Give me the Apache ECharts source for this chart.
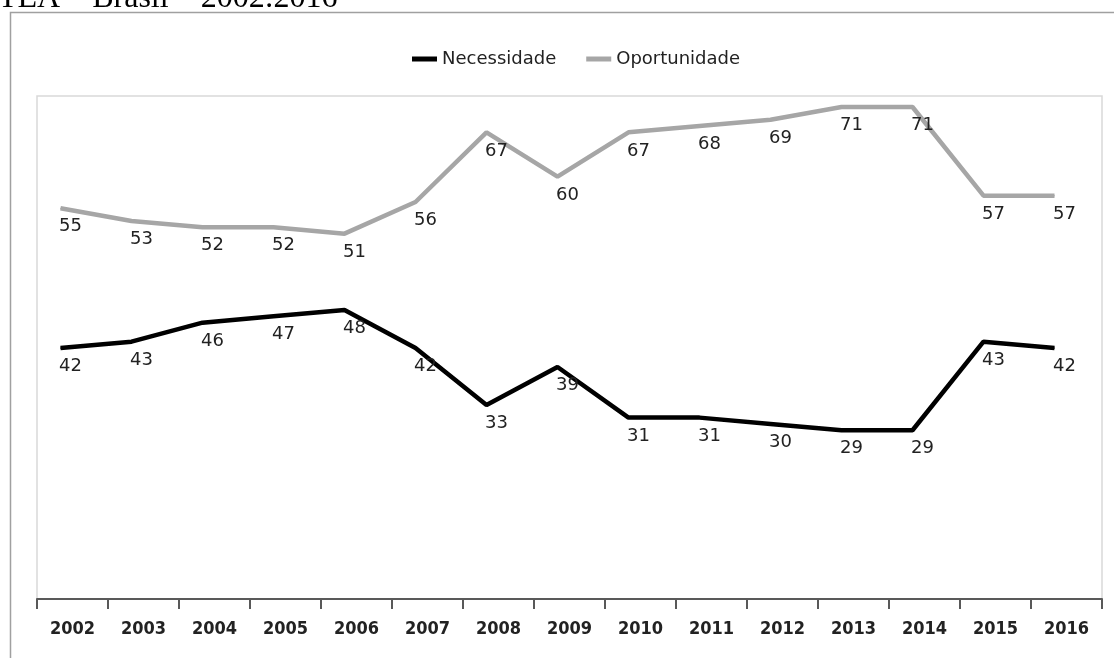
<!DOCTYPE html>
<html>
<head>
    <meta charset="utf-8">
    <title>TEA - Brasil - 2002:2016</title>
    <script src="https://cdn.jsdelivr.net/npm/echarts@6/dist/echarts.min.js"></script>
    <style>
        html, body { margin: 0; padding: 0; background: #fff; }
        #main { width: 1114px; height: 658px; }
    </style>
</head>
<body>
    <div id="main"></div>
    <script type="text/javascript">
        // chart data
        var years = ['2002', '2003', '2004', '2005', '2006', '2007', '2008', '2009',
            '2010', '2011', '2012', '2013', '2014', '2015', '2016'];
        var necessidade = [42, 43, 46, 47, 48, 42, 33, 39, 31, 31, 30, 29, 29, 43, 42];
        var oportunidade = [55, 53, 52, 52, 51, 56, 67, 60, 67, 68, 69, 71, 71, 57, 57];

        var myChart = echarts.init(document.getElementById('main'));

        var fontName = 'DejaVu Sans';

        // labels sit under the point, shifted right onto the category centre
        var dataLabel = {
            show: true,
            position: 'bottom',
            distance: 9,
            offset: [10, 0],
            color: '#222',
            fontFamily: fontName,
            fontSize: 18
        };

        var option = {
            animation: false,
            backgroundColor: '#fff',
            graphic: [{
                // title is cut off by the top edge in the original
                type: 'text',
                x: -2,
                y: 15,
                style: {
                    text: 'TEA \u2013 Brasil \u2013 2002:2016',
                    font: '32px "Liberation Serif"',
                    fill: '#000',
                    verticalAlign: 'bottom'
                }
            }, {
                type: 'rect',
                shape: { x: 10.5, y: 12.5, width: 1200, height: 800 },
                style: { fill: 'none', stroke: '#a0a0a0', lineWidth: 1.5 },
                z: -1
            }],
            legend: {
                left: 407,
                top: 45,
                itemGap: 30,
                itemWidth: 25,
                itemHeight: 5,
                icon: 'rect',
                textStyle: { fontFamily: fontName, fontSize: 18, color: '#222' },
                data: ['Necessidade', 'Oportunidade']
            },
            grid: [{
                // visible axis and plot-area border
                left: 37, right: 12, top: 96, bottom: 59,
                show: true,
                borderColor: '#d9d9d9',
                borderWidth: 1.5
            }, {
                // data grid, shifted left like the original
                left: 25, right: 24, top: 96, bottom: 59
            }],
            xAxis: [{
                type: 'category',
                gridIndex: 0,
                data: years,
                boundaryGap: true,
                axisLine: { lineStyle: { color: '#595959', width: 2 } },
                axisTick: { show: true, length: 10, lineStyle: { color: '#595959', width: 2 } },
                axisLabel: { margin: 21, color: '#222', fontFamily: '"DejaVu Sans Condensed"', fontSize: 18, fontWeight: 'bold' },
                splitLine: { show: false }
            }, {
                type: 'category',
                gridIndex: 1,
                data: years,
                boundaryGap: true,
                show: false
            }],
            yAxis: [{
                type: 'value',
                gridIndex: 0,
                show: false
            }, {
                type: 'value',
                gridIndex: 1,
                min: 2.35,
                max: 81.8,
                show: false
            }, {
                type: 'value',
                gridIndex: 1,
                min: -6.7,
                max: 72.74,
                show: false
            }],
            series: [{
                name: 'Necessidade',
                type: 'line',
                xAxisIndex: 1,
                yAxisIndex: 1,
                data: necessidade,
                symbol: 'circle',
                symbolSize: 1,
                color: '#000',
                lineStyle: { color: '#000', width: 4.5 },
                label: dataLabel
            }, {
                name: 'Oportunidade',
                type: 'line',
                xAxisIndex: 1,
                yAxisIndex: 2,
                data: oportunidade,
                symbol: 'circle',
                symbolSize: 1,
                color: '#a6a6a6',
                lineStyle: { color: '#a6a6a6', width: 4.5 },
                label: dataLabel
            }]
        };

        myChart.setOption(option);
    </script>
</body>
</html>
